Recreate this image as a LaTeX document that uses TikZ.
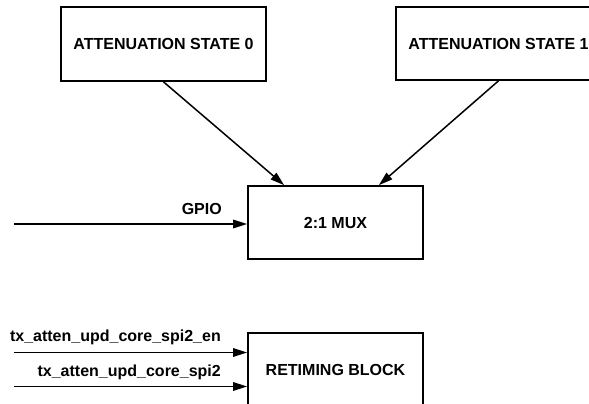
\documentclass[tikz,border=0pt]{standalone}
\usepackage{fontspec}
\setmainfont{Liberation Sans}
\usetikzlibrary{arrows.meta,calc}
\tikzset{
  blk/.style={draw, line width=1.7pt, fill=white, inner sep=0pt, font=\fontsize{16}{19}\selectfont\bfseries},
  arr/.style={line width=1.5pt, -{Triangle[length=14pt,width=8.5pt]}},
  lbl/.style={inner sep=0pt, font=\fontsize{16}{19}\selectfont\bfseries}
}
\begin{document}
\begin{tikzpicture}[x=1pt,y=-1pt]
\useasboundingbox (0,0) rectangle (589,404);
\clip (0,0) rectangle (589,404);
\node[blk, minimum width=205pt, minimum height=74pt] (s0) at (163.5,44) {ATTENUATION STATE 0};
\node[blk, minimum width=205pt, minimum height=73pt] (s1) at (498.5,43.5) {ATTENUATION STATE 1};
\node[blk, minimum width=175pt, minimum height=73pt] (mux) at (335.5,222.5) {2:1 MUX};
\node[blk, minimum width=175pt, minimum height=73pt] (rt) at (335.5,369.5) {RETIMING BLOCK};
\draw[arr] (s0.south) -- ([xshift=37pt]mux.north west);
\draw[arr] (s1.south) -- ([xshift=-45pt]mux.north east);
\coordinate (g) at (14,224);
\coordinate (e) at (14,352.5);
\coordinate (d) at (14,386.5);
\draw[arr] (g) -- (g -| mux.west);
\draw[arr] (e) -- (e -| rt.west);
\draw[arr] (d) -- (d -| rt.west);
\node[lbl, anchor=base east] (gl) at (222,214.5) {GPIO};
\node[lbl, anchor=base east] (el) at (221,341.5) {tx\_atten\_upd\_core\_spi2\_en};
\node[lbl, anchor=base east] (dl) at (221,376) {tx\_atten\_upd\_core\_spi2};
\end{tikzpicture}
\end{document}
